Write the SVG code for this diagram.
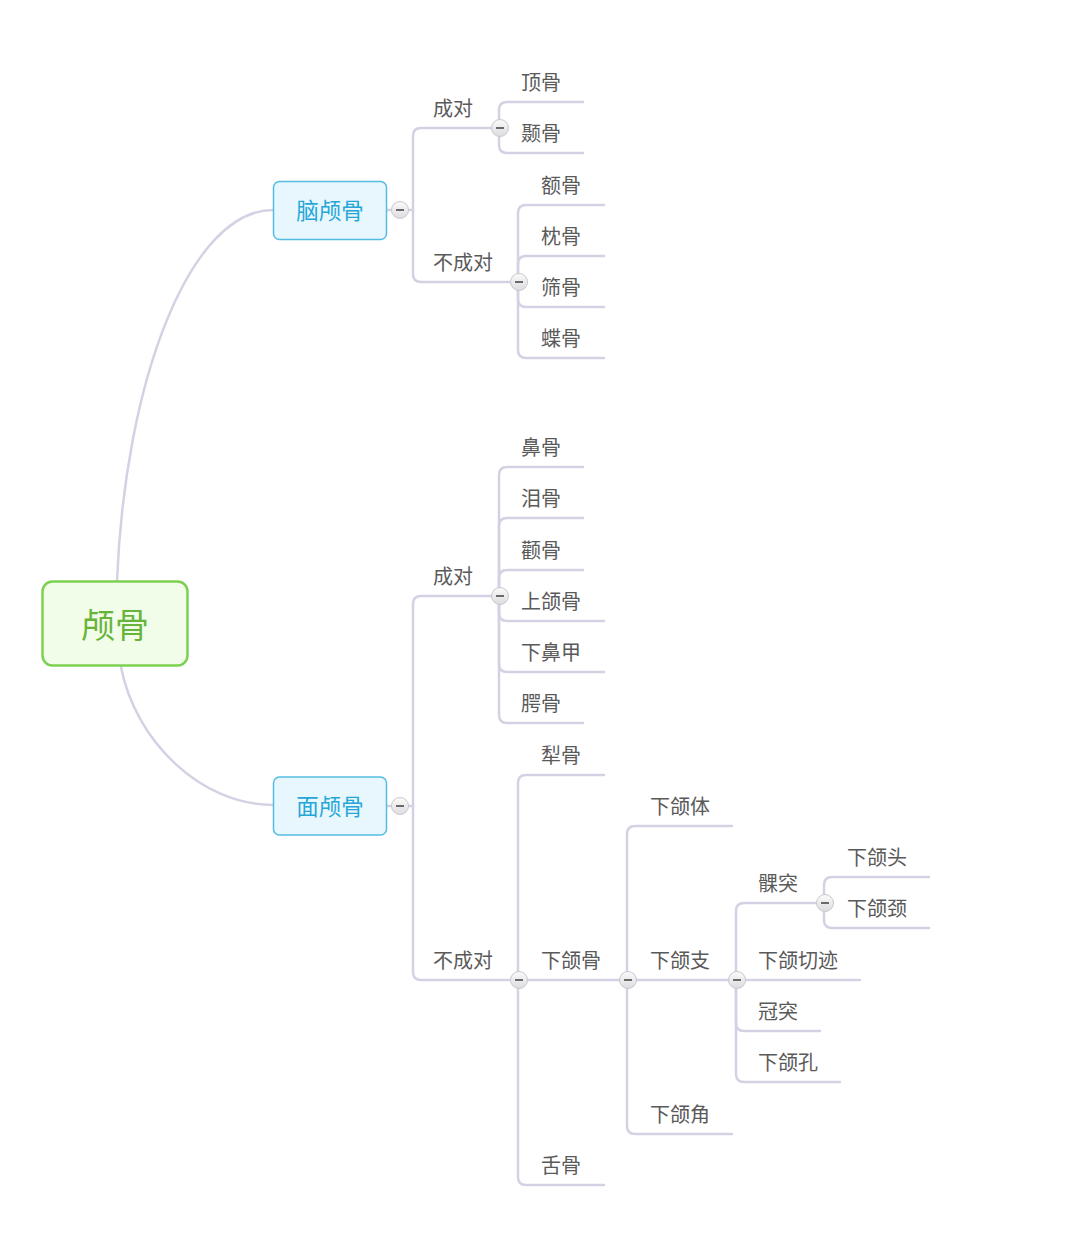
<svg xmlns="http://www.w3.org/2000/svg" width="1080" height="1248" viewBox="0 0 1080 1248">
<style>
.ln{fill:none;stroke:#d5d1e4;stroke-width:2.5;stroke-linecap:round}
.t{font-family:"Noto Sans CJK SC","Noto Sans",sans-serif;font-size:20px;fill:#5a5a5a}
.btn circle{fill:url(#bg);stroke:#c9c9cf;stroke-width:1}
.btn line{stroke:#6a6a6a;stroke-width:2}
</style>
<defs>
<linearGradient id="bg" x1="0" y1="0" x2="0" y2="1">
<stop offset="0" stop-color="#fbfbfb"/>
<stop offset="1" stop-color="#dcdcdf"/>
</linearGradient>
<g id="b" class="btn"><circle cx="0" cy="0" r="8.5"/><line x1="-4" y1="0" x2="4" y2="0"/></g>
</defs>
<rect width="1080" height="1248" fill="#ffffff"/>
<g id="connectors">
<path class="ln" d="M117,581 C125,380 190,210 273,210"/>
<path class="ln" d="M121,667 C135,740 200,805 273,805"/>
<path class="ln" d="M387,210 H413"/>
<path class="ln" d="M413,210 V136 Q413,128 421,128 H500"/>
<path class="ln" d="M413,210 V274 Q413,282 421,282 H519"/>
<path class="ln" d="M499,128 V110 Q499,102 507,102 H583"/>
<path class="ln" d="M499,128 V145 Q499,153 507,153 H583"/>
<path class="ln" d="M518,282 V213 Q518,205 526,205 H604"/>
<path class="ln" d="M518,282 V264 Q518,256 526,256 H604"/>
<path class="ln" d="M518,282 V299 Q518,307 526,307 H604"/>
<path class="ln" d="M518,282 V350 Q518,358 526,358 H604"/>
<path class="ln" d="M387,806 H413"/>
<path class="ln" d="M413,806 V604 Q413,596 421,596 H500"/>
<path class="ln" d="M413,806 V972 Q413,980 421,980 H519"/>
<path class="ln" d="M499,596 V475 Q499,467 507,467 H583"/>
<path class="ln" d="M499,596 V526 Q499,518 507,518 H583"/>
<path class="ln" d="M499,596 V578 Q499,570 507,570 H583"/>
<path class="ln" d="M499,596 V613 Q499,621 507,621 H604"/>
<path class="ln" d="M499,596 V664 Q499,672 507,672 H604"/>
<path class="ln" d="M499,596 V715 Q499,723 507,723 H583"/>
<path class="ln" d="M518,980 V783 Q518,775 526,775 H604"/>
<path class="ln" d="M518,980 H628"/>
<path class="ln" d="M518,980 V1177 Q518,1185 526,1185 H604"/>
<path class="ln" d="M627,980 V834 Q627,826 635,826 H732"/>
<path class="ln" d="M627,980 H737"/>
<path class="ln" d="M627,980 V1126 Q627,1134 635,1134 H732"/>
<path class="ln" d="M736,980 V911 Q736,903 744,903 H825"/>
<path class="ln" d="M736,980 H860"/>
<path class="ln" d="M736,980 V1023 Q736,1031 744,1031 H820"/>
<path class="ln" d="M736,980 V1074 Q736,1082 744,1082 H840"/>
<path class="ln" d="M824,903 V885 Q824,877 832,877 H929"/>
<path class="ln" d="M824,903 V920 Q824,928 832,928 H929"/>
</g>
<g id="root">
<rect x="42.5" y="581.5" width="145" height="84" rx="10" fill="#f1fde8" stroke="#7dd152" stroke-width="2.5"/>
<text x="115" y="638" text-anchor="middle" font-family="Noto Sans CJK SC,sans-serif" font-size="34" fill="#67b43a">颅骨</text>
</g>
<g id="node-naolugu">
<rect x="273.5" y="181.5" width="113" height="58" rx="6" fill="#e7f7fd" stroke="#55bde3" stroke-width="1.5"/>
<text x="330" y="219" text-anchor="middle" font-family="Noto Sans CJK SC,sans-serif" font-size="22.5" fill="#26a6d8">脑颅骨</text>
<use href="#b" x="400" y="210"/>
</g>
<g id="node-chengdui1"><text class="t" x="433" y="116">成对</text><use href="#b" x="500" y="128"/></g>
<g id="node-dingu"><text class="t" x="521" y="90">顶骨</text></g>
<g id="node-niegu"><text class="t" x="521" y="141">颞骨</text></g>
<g id="node-buchengdui1"><text class="t" x="433" y="270">不成对</text><use href="#b" x="519" y="282"/></g>
<g id="node-egu"><text class="t" x="541" y="193">额骨</text></g>
<g id="node-zhengu"><text class="t" x="541" y="244">枕骨</text></g>
<g id="node-shaigu"><text class="t" x="541" y="295">筛骨</text></g>
<g id="node-diegu"><text class="t" x="541" y="346">蝶骨</text></g>
<g id="node-mianlugu">
<rect x="273.5" y="777" width="113" height="58" rx="6" fill="#e7f7fd" stroke="#55bde3" stroke-width="1.5"/>
<text x="330" y="814.5" text-anchor="middle" font-family="Noto Sans CJK SC,sans-serif" font-size="22.5" fill="#26a6d8">面颅骨</text>
<use href="#b" x="400" y="806"/>
</g>
<g id="node-chengdui2"><text class="t" x="433" y="584">成对</text><use href="#b" x="500" y="596"/></g>
<g id="node-bigu"><text class="t" x="521" y="455">鼻骨</text></g>
<g id="node-leigu"><text class="t" x="521" y="506">泪骨</text></g>
<g id="node-quangu"><text class="t" x="521" y="558">颧骨</text></g>
<g id="node-shanghegu"><text class="t" x="521" y="609">上颌骨</text></g>
<g id="node-xiabijia"><text class="t" x="521" y="660">下鼻甲</text></g>
<g id="node-egu2"><text class="t" x="521" y="711">腭骨</text></g>
<g id="node-buchengdui2"><text class="t" x="433" y="968">不成对</text><use href="#b" x="519" y="980"/></g>
<g id="node-ligu"><text class="t" x="541" y="763">犁骨</text></g>
<g id="node-xiahegu"><text class="t" x="541" y="968">下颌骨</text><use href="#b" x="628" y="980"/></g>
<g id="node-shegu"><text class="t" x="541" y="1173">舌骨</text></g>
<g id="node-xiaheti"><text class="t" x="650" y="814">下颌体</text></g>
<g id="node-xiahezhi"><text class="t" x="650" y="968">下颌支</text><use href="#b" x="737" y="980"/></g>
<g id="node-xiahejiao"><text class="t" x="650" y="1122">下颌角</text></g>
<g id="node-ketu"><text class="t" x="758" y="891">髁突</text><use href="#b" x="825" y="903"/></g>
<g id="node-xiaheqieji"><text class="t" x="758" y="968">下颌切迹</text></g>
<g id="node-guantu"><text class="t" x="758" y="1019">冠突</text></g>
<g id="node-xiahekong"><text class="t" x="758" y="1070">下颌孔</text></g>
<g id="node-xiahetou"><text class="t" x="847" y="865">下颌头</text></g>
<g id="node-xiahejing"><text class="t" x="847" y="916">下颌颈</text></g>
</svg>
